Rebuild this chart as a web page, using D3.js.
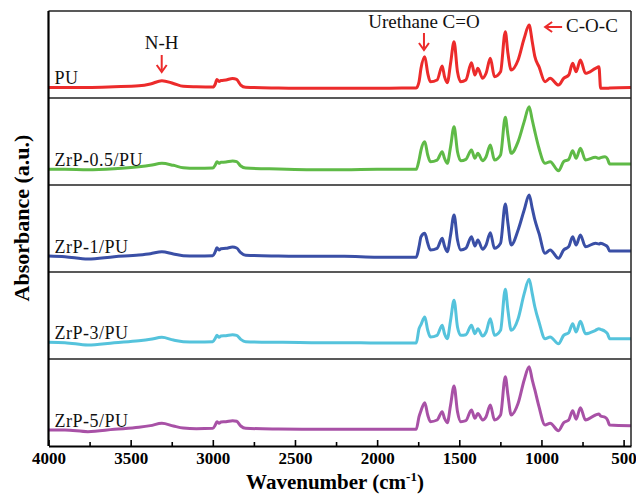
<!DOCTYPE html>
<html>
<head>
<meta charset="utf-8">
<script src="https://cdn.jsdelivr.net/npm/d3@7"></script>
<style>
  body { margin: 0; background: #fff; }
  svg { display: block; }
  text { font-family: "Liberation Serif", "Times New Roman", serif; }
</style>
</head>
<body>
<svg id="chart" width="636" height="496"></svg>
<script>
// wavenumber (cm-1) of every point, shared by all spectra
var wavenumbers = [4000, 3900, 3760, 3600, 3450, 3380, 3310, 3240, 3180, 3100,
  3000, 2985, 2975, 2962, 2950, 2920, 2880, 2855, 2830, 2800,
  2600, 2400, 2200, 2000, 1850, 1762, 1745, 1733, 1710, 1692,
  1676, 1635, 1604, 1590, 1573, 1553, 1532, 1511, 1491, 1460,
  1426, 1405, 1387, 1358, 1337, 1311, 1286, 1249, 1220, 1204,
  1184, 1142, 1105, 1075, 1056, 1040, 1015, 978, 947, 896,
  865, 834, 810, 789, 763, 732, 671, 650, 640, 613,
  598, 585, 455];

// absorbance (a.u.) read per panel, 0 = panel bottom, 1 = panel top
var puVals = [0.121, 0.121, 0.121, 0.129, 0.140, 0.161, 0.199, 0.167, 0.134, 0.129,
  0.126, 0.161, 0.213, 0.190, 0.201, 0.207, 0.224, 0.213, 0.149, 0.123,
  0.115, 0.111, 0.111, 0.111, 0.115, 0.115, 0.187, 0.341, 0.475, 0.284,
  0.187, 0.207, 0.368, 0.245, 0.176, 0.399, 0.647, 0.302, 0.187, 0.207,
  0.406, 0.264, 0.341, 0.226, 0.284, 0.456, 0.245, 0.302, 0.762, 0.514,
  0.322, 0.437, 0.686, 0.839, 0.647, 0.475, 0.360, 0.187, 0.226, 0.149,
  0.226, 0.264, 0.399, 0.302, 0.437, 0.284, 0.341, 0.360, 0.111, 0.111,
  0.111, 0.115, 0.120];

var zrp05Vals = [0.180, 0.180, 0.176, 0.188, 0.210, 0.226, 0.249, 0.226, 0.199, 0.192,
  0.195, 0.230, 0.268, 0.249, 0.261, 0.264, 0.276, 0.268, 0.218, 0.195,
  0.184, 0.176, 0.176, 0.180, 0.180, 0.180, 0.287, 0.402, 0.498, 0.345,
  0.268, 0.287, 0.383, 0.307, 0.249, 0.440, 0.670, 0.383, 0.279, 0.295,
  0.402, 0.307, 0.364, 0.279, 0.325, 0.460, 0.287, 0.345, 0.778, 0.575,
  0.364, 0.498, 0.728, 0.900, 0.747, 0.613, 0.422, 0.249, 0.268, 0.164,
  0.268, 0.295, 0.394, 0.307, 0.422, 0.287, 0.318, 0.307, 0.314, 0.325,
  0.300, 0.241, 0.241];

var zrp1Vals = [0.184, 0.176, 0.149, 0.176, 0.195, 0.210, 0.233, 0.207, 0.188, 0.184,
  0.188, 0.233, 0.279, 0.253, 0.268, 0.272, 0.287, 0.276, 0.222, 0.192,
  0.184, 0.180, 0.180, 0.169, 0.169, 0.169, 0.291, 0.406, 0.445, 0.330,
  0.253, 0.272, 0.387, 0.299, 0.233, 0.425, 0.655, 0.368, 0.253, 0.272,
  0.406, 0.299, 0.368, 0.261, 0.310, 0.452, 0.272, 0.330, 0.782, 0.560,
  0.310, 0.483, 0.713, 0.885, 0.732, 0.598, 0.445, 0.215, 0.253, 0.157,
  0.253, 0.291, 0.406, 0.310, 0.425, 0.291, 0.330, 0.322, 0.330, 0.310,
  0.290, 0.241, 0.241];

var zrp3Vals = [0.192, 0.188, 0.161, 0.188, 0.210, 0.226, 0.249, 0.218, 0.199, 0.195,
  0.199, 0.238, 0.272, 0.249, 0.264, 0.268, 0.279, 0.272, 0.226, 0.199,
  0.192, 0.188, 0.188, 0.184, 0.184, 0.184, 0.348, 0.395, 0.483, 0.330,
  0.253, 0.272, 0.387, 0.291, 0.234, 0.445, 0.674, 0.368, 0.272, 0.279,
  0.387, 0.291, 0.348, 0.264, 0.310, 0.463, 0.272, 0.330, 0.801, 0.560,
  0.330, 0.463, 0.751, 0.916, 0.751, 0.598, 0.425, 0.234, 0.253, 0.176,
  0.272, 0.302, 0.406, 0.310, 0.433, 0.291, 0.330, 0.348, 0.341, 0.318,
  0.290, 0.234, 0.234];

var zrp5Vals = [0.184, 0.184, 0.165, 0.192, 0.215, 0.234, 0.261, 0.230, 0.207, 0.199,
  0.203, 0.241, 0.279, 0.261, 0.276, 0.279, 0.291, 0.284, 0.230, 0.203,
  0.195, 0.192, 0.192, 0.192, 0.192, 0.192, 0.337, 0.406, 0.498, 0.356,
  0.280, 0.299, 0.395, 0.318, 0.268, 0.471, 0.690, 0.395, 0.280, 0.291,
  0.414, 0.318, 0.375, 0.299, 0.337, 0.471, 0.299, 0.356, 0.797, 0.586,
  0.356, 0.490, 0.759, 0.912, 0.759, 0.644, 0.452, 0.241, 0.261, 0.176,
  0.268, 0.299, 0.406, 0.307, 0.440, 0.299, 0.356, 0.368, 0.345, 0.330,
  0.300, 0.241, 0.233];

var sampleNames = ["PU", "ZrP-0.5/PU", "ZrP-1/PU", "ZrP-3/PU", "ZrP-5/PU"];
var sampleValues = [puVals, zrp05Vals, zrp1Vals, zrp3Vals, zrp5Vals];
var sampleColors = ["#ec2b2b", "#5fba47", "#3a4fa6", "#55c3dc", "#a851a6"];

var majorTicks = [4000, 3500, 3000, 2500, 2000, 1500, 1000, 500];
var minorTicks = [3750, 3250, 2750, 2250, 1750, 1250, 750];

// peak annotations on the PU spectrum
var annotations = [
  {label: "N-H", wn: 3311},
  {label: "Urethane C=O", wn: 1715}
];

var margin = {top: 11, right: 5, bottom: 50, left: 48.5};
var width = 636 - margin.left - margin.right;
var height = 496 - margin.top - margin.bottom;

var svg = d3.select("#chart");
var g = svg.append("g")
    .attr("transform", "translate(" + margin.left + "," + margin.top + ")");

var x = d3.scaleLinear().domain([4000, 455]).range([0, width]);
var band = d3.scaleBand().domain(sampleNames).range([0, height]);

g.append("clipPath").attr("id", "clip")
    .append("rect").attr("width", width).attr("height", height);

// one panel per sample
sampleNames.forEach(function (name, i) {
    var top = band(name);
    var y = d3.scaleLinear().domain([0, 1]).range([top + band.bandwidth(), top]);
    var vals = sampleValues[i];
    var pts = wavenumbers.map(function (w, k) { return [w, vals[k]]; });

    var line = d3.line()
        .x(function (d) { return x(d[0]); })
        .y(function (d) { return y(d[1]); })
        .curve(d3.curveMonotoneX);

    g.append("path")
        .datum(pts)
        .attr("clip-path", "url(#clip)")
        .attr("fill", "none")
        .attr("stroke", sampleColors[i])
        .attr("stroke-width", 3)
        .attr("stroke-linejoin", "round")
        .attr("d", line);

    g.append("text")
        .attr("x", 6)
        .attr("y", y(vals[0]) - 3)
        .attr("font-size", 18)
        .attr("letter-spacing", 0.5)
        .attr("fill", "#111")
        .text(name);

    if (i > 0) {
        g.append("line")
            .attr("x1", 0).attr("x2", width)
            .attr("y1", top).attr("y2", top)
            .attr("stroke", "#222").attr("stroke-width", 1.5);
    }
});

// frame
g.append("line").attr("x1", 0).attr("x2", width).attr("y1", 0).attr("y2", 0)
    .attr("stroke", "#222").attr("stroke-width", 1.5);
g.append("line").attr("x1", width).attr("x2", width).attr("y1", 0).attr("y2", height)
    .attr("stroke", "#222").attr("stroke-width", 1.5);
g.append("line").attr("x1", 0).attr("x2", 0).attr("y1", 0).attr("y2", height)
    .attr("stroke", "#000").attr("stroke-width", 2.2);

// x axis
var xAxis = g.append("g")
    .attr("transform", "translate(0," + height + ")")
    .call(d3.axisBottom(x).tickValues(majorTicks).tickSize(-6).tickSizeOuter(0)
        .tickPadding(6).tickFormat(d3.format("d")));
xAxis.select(".domain").attr("stroke", "#000").attr("stroke-width", 2.2);
xAxis.selectAll(".tick line").attr("stroke", "#000").attr("stroke-width", 1.6);
xAxis.selectAll(".tick text")
    .attr("font-family", "'Liberation Serif', 'Times New Roman', serif")
    .attr("font-size", 17).attr("font-weight", "bold").attr("fill", "#000");

var xMinor = g.append("g")
    .attr("transform", "translate(0," + height + ")")
    .call(d3.axisBottom(x).tickValues(minorTicks).tickSize(-4).tickSizeOuter(0).tickFormat(""));
xMinor.select(".domain").remove();
xMinor.selectAll(".tick line").attr("stroke", "#000").attr("stroke-width", 1.6);

// axis titles
var xTitle = svg.append("text")
    .attr("x", 335)
    .attr("y", 489)
    .attr("text-anchor", "middle")
    .attr("font-size", 21).attr("font-weight", "bold");
xTitle.append("tspan").text("Wavenumber (cm");
xTitle.append("tspan").attr("font-size", 13).attr("dy", -8).text("-1");
xTitle.append("tspan").attr("dy", 8).text(")");

svg.append("text")
    .attr("transform", "translate(29,218) rotate(-90)")
    .attr("text-anchor", "middle")
    .attr("font-size", 22).attr("font-weight", "bold")
    .text("Absorbance (a.u.)");

// annotations with down arrows
var red = sampleColors[0];
var yTop = [49, 28];
var arrowTop = [55, 33];
var arrowLen = 17;
annotations.forEach(function (a, i) {
    var ax = x(a.wn);
    g.append("text")
        .attr("x", ax).attr("y", yTop[i] - margin.top)
        .attr("text-anchor", "middle")
        .attr("font-size", 19).attr("fill", "#111")
        .text(a.label);
    var y0 = arrowTop[i] - margin.top, y1 = y0 + arrowLen;
    g.append("line").attr("x1", ax).attr("x2", ax).attr("y1", y0).attr("y2", y1 - 2)
        .attr("stroke", red).attr("stroke-width", 2);
    g.append("path")
        .attr("d", "M" + (ax - 5) + "," + (y1 - 7) + "L" + ax + "," + y1 + "L" + (ax + 5) + "," + (y1 - 7))
        .attr("fill", "none").attr("stroke", red).attr("stroke-width", 2);
});

// C-O-C label with a left arrow pointing at the 1075 band
var cocX = x(1075) + 16;
var cocY = 27 - margin.top;
g.append("line").attr("x1", cocX + 1).attr("x2", cocX + 17).attr("y1", cocY).attr("y2", cocY)
    .attr("stroke", red).attr("stroke-width", 2);
g.append("path")
    .attr("d", "M" + (cocX + 7) + "," + (cocY - 5) + "L" + cocX + "," + cocY + "L" + (cocX + 7) + "," + (cocY + 5))
    .attr("fill", "none").attr("stroke", red).attr("stroke-width", 2);
g.append("text")
    .attr("x", cocX + 21).attr("y", 31.5 - margin.top)
    .attr("font-size", 19).attr("fill", "#111")
    .text("C-O-C");
</script>
</body>
</html>
